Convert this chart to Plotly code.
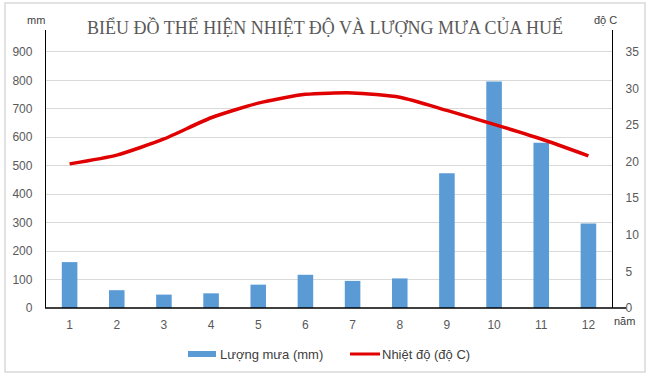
import plotly.graph_objects as go

months = ["1", "2", "3", "4", "5", "6", "7", "8", "9", "10", "11", "12"]
rainfall = [161.3, 62.6, 47.1, 51.6, 82.1, 116.7, 95.3, 104.0, 473.4, 795.6, 580.6, 297.4]
temperature = [19.7, 20.9, 23.1, 26.0, 28.0, 29.2, 29.4, 28.8, 27.0, 25.1, 23.1, 20.8]
left_ticks = [0, 100, 200, 300, 400, 500, 600, 700, 800, 900]
right_ticks = [0, 5, 10, 15, 20, 25, 30, 35]
bar_name = "Lượng mưa (mm)"
line_name = "Nhiệt độ (độ C)"

W, H = 650, 379
L, R, T, B = 46, 38, 30, 71
PW, PH = W - L - R, H - T - B
ymax = 977
y2max = ymax * 35 / 900
BAR_COLOR = "#5b9bd5"
LINE_COLOR = "#e00000"


def px(x):
    return (x - L) / PW


def py(y):
    return (H - B - y) / PH


tickfont = dict(family="Liberation Sans, Arial, sans-serif", size=12, color="#595959")
labfont = dict(family="Liberation Sans, Arial, sans-serif", size=11, color="#404040")
legfont = dict(family="Liberation Sans, Arial, sans-serif", size=13, color="#404040")

fig = go.Figure()
fig.add_trace(go.Bar(x=months, y=rainfall, name=bar_name,
                     marker=dict(color=BAR_COLOR, line=dict(width=0)), yaxis="y"))
fig.add_trace(go.Scatter(x=months, y=temperature, name=line_name, mode="lines",
                         line=dict(color=LINE_COLOR, width=3.5, shape="spline", smoothing=0.6),
                         yaxis="y2"))

fig.update_layout(
    width=W, height=H,
    margin=dict(l=L, r=R, t=T, b=B, pad=0),
    paper_bgcolor="white", plot_bgcolor="white",
    bargap=0.67,
    showlegend=False,
    xaxis=dict(type="category", showgrid=False, showline=False, zeroline=False,
               ticks="", tickfont=tickfont, ticklabelstandoff=8),
    yaxis=dict(range=[0, ymax], tickvals=left_ticks, showgrid=True, gridcolor="#d9d9d9",
               gridwidth=1, showline=True, linecolor="black", linewidth=1.3, zeroline=False,
               tickfont=tickfont, ticks="", ticklabelstandoff=10),
    yaxis2=dict(range=[0, y2max], tickvals=right_ticks, overlaying="y", side="right",
                showgrid=False, showline=True, linecolor="black", linewidth=1.3, zeroline=False,
                tickfont=tickfont, ticks="", ticklabelstandoff=10),
    shapes=[
        dict(type="rect", xref="paper", yref="paper", x0=px(5), x1=px(645),
             y0=py(372), y1=py(3), line=dict(color="#d9d9d9", width=1.5)),
        dict(type="line", xref="paper", yref="paper", x0=px(45), x1=px(626),
             y0=0, y1=0, line=dict(color="black", width=1.3)),
        # legend swatches
        dict(type="rect", xref="paper", yref="paper", x0=px(188), x1=px(216),
             y0=py(357), y1=py(351), fillcolor=BAR_COLOR, line=dict(width=0)),
        dict(type="line", xref="paper", yref="paper", x0=px(350), x1=px(380),
             y0=py(354), y1=py(354), line=dict(color=LINE_COLOR, width=3)),
    ],
    annotations=[
        dict(text="BIỂU ĐỒ THỂ HIỆN NHIỆT ĐỘ VÀ LƯỢNG MƯA CỦA HUẾ", xref="paper", yref="paper",
             x=px(325), y=py(27), xanchor="center", yanchor="middle",
             showarrow=False, font=dict(family="Liberation Serif, Times New Roman, serif", size=18, color="#595959")),
        dict(text="mm", xref="paper", yref="paper", x=px(36), y=py(20),
             xanchor="center", yanchor="middle", showarrow=False, font=labfont),
        dict(text="độ C", xref="paper", yref="paper", x=px(605), y=py(20),
             xanchor="center", yanchor="middle", showarrow=False, font=labfont),
        dict(text="năm", xref="paper", yref="paper", x=px(624), y=py(321),
             xanchor="center", yanchor="middle", showarrow=False, font=labfont),
        dict(text=bar_name, xref="paper", yref="paper", x=px(218), y=py(354),
             xanchor="left", yanchor="middle", showarrow=False, font=legfont),
        dict(text=line_name, xref="paper", yref="paper", x=px(380), y=py(354),
             xanchor="left", yanchor="middle", showarrow=False, font=legfont),
    ],
)

fig.write_html("out.html")
